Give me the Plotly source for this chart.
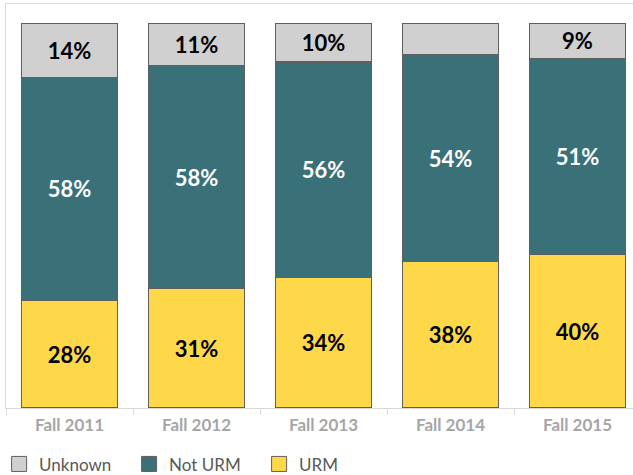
import plotly.graph_objects as go

categories = ["Fall 2011", "Fall 2012", "Fall 2013", "Fall 2014", "Fall 2015"]
urm = [28, 31, 34, 38, 40]
not_urm = [58, 58, 56, 54, 51]
unknown = [14, 11, 10, 8, 9]
unknown_labels = ["14%", "11%", "10%", "", "9%"]

series_names = ["URM", "Not URM", "Unknown"]
series_colors = ["#FFD84A", "#3A7078", "#D0D0D0"]
label_colors = ["#000000", "#FFFFFF", "#000000"]

FONT = "Lato"
EDGE = "#5f5f5f"
border = dict(color=EDGE, width=1.2)

values = [urm, not_urm, unknown]
labels = [[f"{v}%" for v in urm], [f"{v}%" for v in not_urm], unknown_labels]

fig = go.Figure()
for name, vals, txt, col, tcol in zip(series_names, values, labels, series_colors, label_colors):
    fig.add_trace(go.Bar(
        x=categories, y=vals, name=name, showlegend=False,
        marker=dict(color=col, line=border),
        text=txt, textposition="inside", insidetextanchor="middle",
        textfont=dict(family=FONT, size=22, color=tcol, weight="bold"),
    ))

# legend entries (Unknown, Not URM, URM) with larger square swatches
for name, col in zip(series_names[::-1], series_colors[::-1]):
    fig.add_trace(go.Scatter(
        x=[None], y=[None], mode="markers", name=name, showlegend=True,
        marker=dict(symbol="square", size=15, color=col, line=dict(color=EDGE, width=1)),
    ))

fig.update_layout(
    width=633, height=475,
    barmode="stack", bargap=0.25,
    paper_bgcolor="white", plot_bgcolor="white",
    margin=dict(l=6, r=0, t=4, b=67, autoexpand=False),
    showlegend=True,
    legend=dict(
        orientation="h", x=-0.011, y=-0.095, xanchor="left", yanchor="top",
        traceorder="normal", entrywidth=85, entrywidthmode="pixels",
        font=dict(family=FONT, size=17, color="#595959"),
    ),
    xaxis=dict(
        range=[-0.5, 4.437], showline=True, linecolor="#d9d9d9", linewidth=1,
        mirror=True, ticks="outside", tickson="boundaries", ticklen=6,
        tickcolor="#d9d9d9", showgrid=False, automargin=False,
        ticklabelstandoff=2,
        tickfont=dict(family=FONT, size=17, color="#a6a6a6", weight="bold"),
    ),
    yaxis=dict(
        range=[0, 105.07], showline=True, linecolor="#d9d9d9", linewidth=1,
        showgrid=False, showticklabels=False, ticks="", zeroline=False,
        automargin=False,
    ),
)

fig.write_html("out.html", config={"displayModeBar": False},
               post_script="document.body.style.margin='0';")
